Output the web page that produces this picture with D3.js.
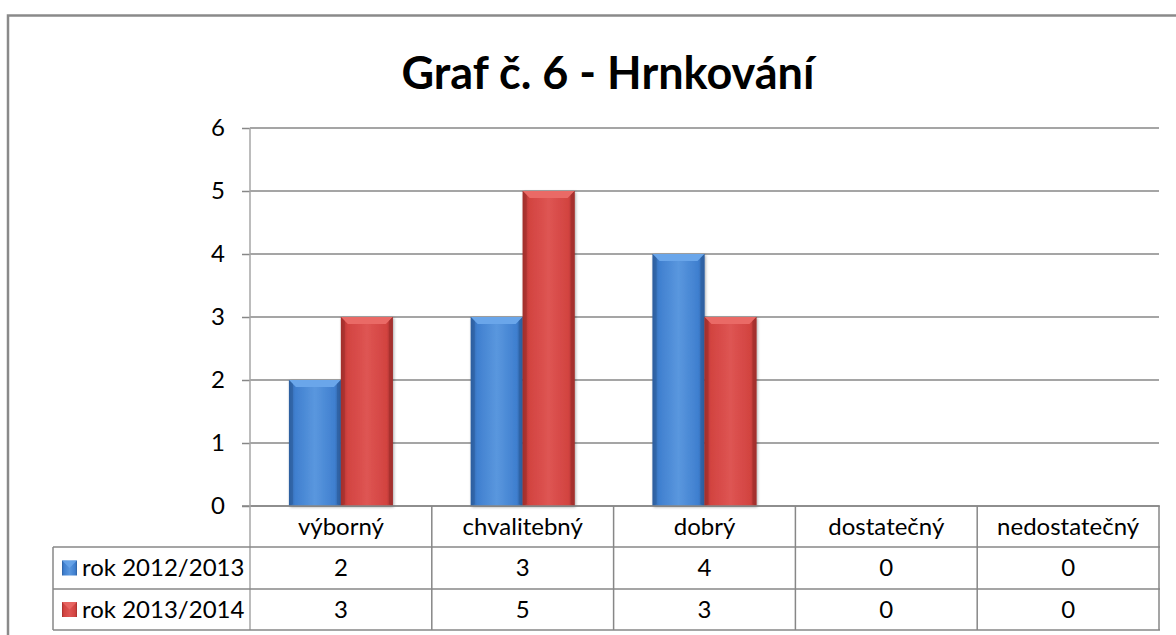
<!DOCTYPE html>
<html>
<head>
<meta charset="utf-8">
<script src="https://cdn.jsdelivr.net/npm/d3@7"></script>
<style>
  body { margin: 0; background: #fff; }
  svg { display: block; font-family: Lato, "Noto Sans", sans-serif; }
</style>
</head>
<body>
<div id="chart"></div>
<script>
// data
var categories = ["výborný", "chvalitebný", "dobrý", "dostatečný", "nedostatečný"];
var seriesNames = ["rok 2012/2013", "rok 2013/2014"];
var values2012 = [2, 3, 4, 0, 0];
var values2013 = [3, 5, 3, 0, 0];
var yTicks = [0, 1, 2, 3, 4, 5, 6];

var seriesValues = [values2012, values2013];

var W = 1176, H = 635;
var plot = { left: 250, right: 1159, top: 128, bottom: 506 };
var tableLeft = 53, rowH = [41, 42, 41];
var grid = "#878787";
var fs = "24px";

var svg = d3.select("#chart").append("svg")
    .attr("width", W).attr("height", H);

var defs = svg.append("defs");
// bar gradients
var pal = [
  { id: "blue", edge: "#2d5f9f", mid: "#3f7fcf", light: "#5a97de", top: "#6aa6ea" },
  { id: "red", edge: "#a12f2c", mid: "#d24340", light: "#de5553", top: "#ea6a66" }
];
pal.forEach(function (p) {
  var g = defs.append("linearGradient").attr("id", "g-" + p.id)
    .attr("x1", "0").attr("x2", "1").attr("y1", "0").attr("y2", "0");
  g.append("stop").attr("offset", "0").attr("stop-color", p.edge);
  g.append("stop").attr("offset", "0.12").attr("stop-color", p.mid);
  g.append("stop").attr("offset", "0.5").attr("stop-color", p.light);
  g.append("stop").attr("offset", "0.88").attr("stop-color", p.mid);
  g.append("stop").attr("offset", "1").attr("stop-color", p.edge);
});
var sh = defs.append("filter").attr("id", "shadow")
  .attr("x", "-20%").attr("y", "-5%").attr("width", "140%").attr("height", "115%");
sh.append("feDropShadow").attr("dx", 1).attr("dy", 1).attr("stdDeviation", 1.5)
  .attr("flood-color", "#000").attr("flood-opacity", 0.35);

// outer frame
svg.append("rect")
  .attr("x", 8).attr("y", 15.5).attr("width", W).attr("height", H)
  .attr("fill", "none").attr("stroke", "#8a8a8a").attr("stroke-width", 2.5);

// title
svg.append("text")
  .attr("x", 608).attr("y", 89)
  .attr("text-anchor", "middle")
  .style("font-size", "45px").style("font-weight", "bold")
  .text("Graf č. 6 - Hrnkování");

// scales
var x0 = d3.scaleBand().domain(categories).range([plot.left, plot.right]);
var x1 = d3.scaleBand().domain(seriesNames).range([0, x0.bandwidth()]).paddingOuter(0.75);
var y = d3.scaleLinear().domain([0, 6]).range([plot.bottom, plot.top]);

// gridlines + y axis
var yAxis = d3.axisLeft(y).tickValues(yTicks).tickSize(8).tickPadding(17)
  .tickFormat(d3.format("d"));
var ya = svg.append("g").attr("transform", "translate(" + plot.left + ",0)").call(yAxis);
ya.select(".domain").remove();
ya.selectAll(".tick line").attr("stroke", grid).attr("stroke-width", 1.5);
ya.selectAll(".tick text").style("font-size", fs).style("font-family", "Lato, sans-serif")
  .attr("fill", "#000");

svg.append("g").selectAll("line").data(yTicks).join("line")
  .attr("x1", plot.left).attr("x2", plot.right)
  .attr("y1", function (d) { return y(d); }).attr("y2", function (d) { return y(d); })
  .attr("stroke", grid).attr("stroke-width", 1.5);

// bars
var groups = svg.append("g").selectAll("g").data(categories).join("g")
  .attr("transform", function (c) { return "translate(" + x0(c) + ",0)"; });

var bars = groups.selectAll("g").data(function (c, i) {
    return seriesNames.map(function (s, k) { return { s: s, k: k, v: seriesValues[k][i] }; });
  }).join("g")
  .filter(function (d) { return d.v > 0; });

bars.append("rect")
  .attr("x", function (d) { return x1(d.s); })
  .attr("y", function (d) { return y(d.v); })
  .attr("width", x1.bandwidth())
  .attr("height", function (d) { return y(0) - y(d.v); })
  .attr("fill", function (d) { return "url(#g-" + pal[d.k].id + ")"; })
  .attr("filter", "url(#shadow)");

// top bevel
var bev = 7;
bars.append("path")
  .attr("d", function (d) {
    var xa = x1(d.s), xb = xa + x1.bandwidth(), yt = y(d.v);
    return "M" + xa + "," + yt + "L" + xb + "," + yt + "L" + (xb - bev) + "," + (yt + bev) +
      "L" + (xa + bev) + "," + (yt + bev) + "Z";
  })
  .attr("fill", function (d) { return pal[d.k].top; });
// side shading
bars.append("path")
  .attr("d", function (d) {
    var xa = x1(d.s), yt = y(d.v), yb = y(0);
    return "M" + xa + "," + yt + "L" + (xa + 4) + "," + (yt + 4) + "L" + (xa + 4) + "," + (yb - 2) +
      "L" + xa + "," + yb + "Z";
  })
  .attr("fill", function (d) { return pal[d.k].edge; }).attr("opacity", 0.6);
bars.append("path")
  .attr("d", function (d) {
    var xb = x1(d.s) + x1.bandwidth(), yt = y(d.v), yb = y(0);
    return "M" + xb + "," + yt + "L" + (xb - 4) + "," + (yt + 4) + "L" + (xb - 4) + "," + (yb - 2) +
      "L" + xb + "," + yb + "Z";
  })
  .attr("fill", function (d) { return pal[d.k].edge; }).attr("opacity", 0.7);

// x axis line (redrawn on top)
svg.append("line")
  .attr("x1", plot.left - 8).attr("x2", plot.right + 1)
  .attr("y1", y(0)).attr("y2", y(0))
  .attr("stroke", grid).attr("stroke-width", 1.5);

// data table
var rowTop = [plot.bottom, plot.bottom + rowH[0], plot.bottom + rowH[0] + rowH[1]];
var tableBottom = rowTop[2] + rowH[2];
var tbl = svg.append("g");
var lineStyle = function (sel) { return sel.attr("stroke", grid).attr("stroke-width", 1.5); };

// vertical y axis continues to table bottom
tbl.append("line").attr("x1", plot.left).attr("x2", plot.left)
  .attr("y1", plot.top).attr("y2", tableBottom)
  .attr("stroke", "#a6a6a6").attr("stroke-width", 1.5);

// category column separators
tbl.selectAll("line.sep").data(categories).join("line").attr("class", "sep")
  .attr("x1", function (c) { return x0(c) + x0.bandwidth(); })
  .attr("x2", function (c) { return x0(c) + x0.bandwidth(); })
  .attr("y1", plot.bottom).attr("y2", tableBottom)
  .call(lineStyle);
// horizontal row lines
tbl.selectAll("line.row").data([rowTop[1], rowTop[2], tableBottom]).join("line").attr("class", "row")
  .attr("x1", tableLeft).attr("x2", plot.right + 1)
  .attr("y1", function (d) { return d; }).attr("y2", function (d) { return d; })
  .call(lineStyle);
tbl.append("line").attr("x1", tableLeft).attr("x2", tableLeft)
  .attr("y1", rowTop[1]).attr("y2", tableBottom).call(lineStyle);

// category labels
tbl.selectAll("text.cat").data(categories).join("text").attr("class", "cat")
  .attr("x", function (c) { return x0(c) + x0.bandwidth() / 2; })
  .attr("y", rowTop[0] + rowH[0] / 2)
  .attr("dy", "0.35em").attr("text-anchor", "middle")
  .style("font-size", fs).text(function (c) { return c; });

// series rows
seriesNames.forEach(function (s, k) {
  var yc = rowTop[k + 1] + rowH[k + 1] / 2;
  var p = pal[k];
  var kx = 62, ks = 15;
  tbl.append("rect").attr("x", kx).attr("y", yc - ks / 2).attr("width", ks).attr("height", ks)
    .attr("fill", "url(#g-" + p.id + ")");
  tbl.append("path")
    .attr("d", "M" + kx + "," + (yc - ks / 2) + "L" + (kx + ks) + "," + (yc - ks / 2) +
      "L" + (kx + ks / 2) + "," + (yc) + "Z")
    .attr("fill", p.top).attr("opacity", 0.8);
  tbl.append("text").attr("x", kx + ks + 5).attr("y", yc).attr("dy", "0.35em")
    .style("font-size", fs).text(s);
  tbl.selectAll("text.v" + k).data(seriesValues[k]).join("text").attr("class", "v" + k)
    .attr("x", function (d, i) { return x0(categories[i]) + x0.bandwidth() / 2; })
    .attr("y", yc).attr("dy", "0.35em").attr("text-anchor", "middle")
    .style("font-size", fs).text(function (d) { return d; });
});
</script>
</body>
</html>
